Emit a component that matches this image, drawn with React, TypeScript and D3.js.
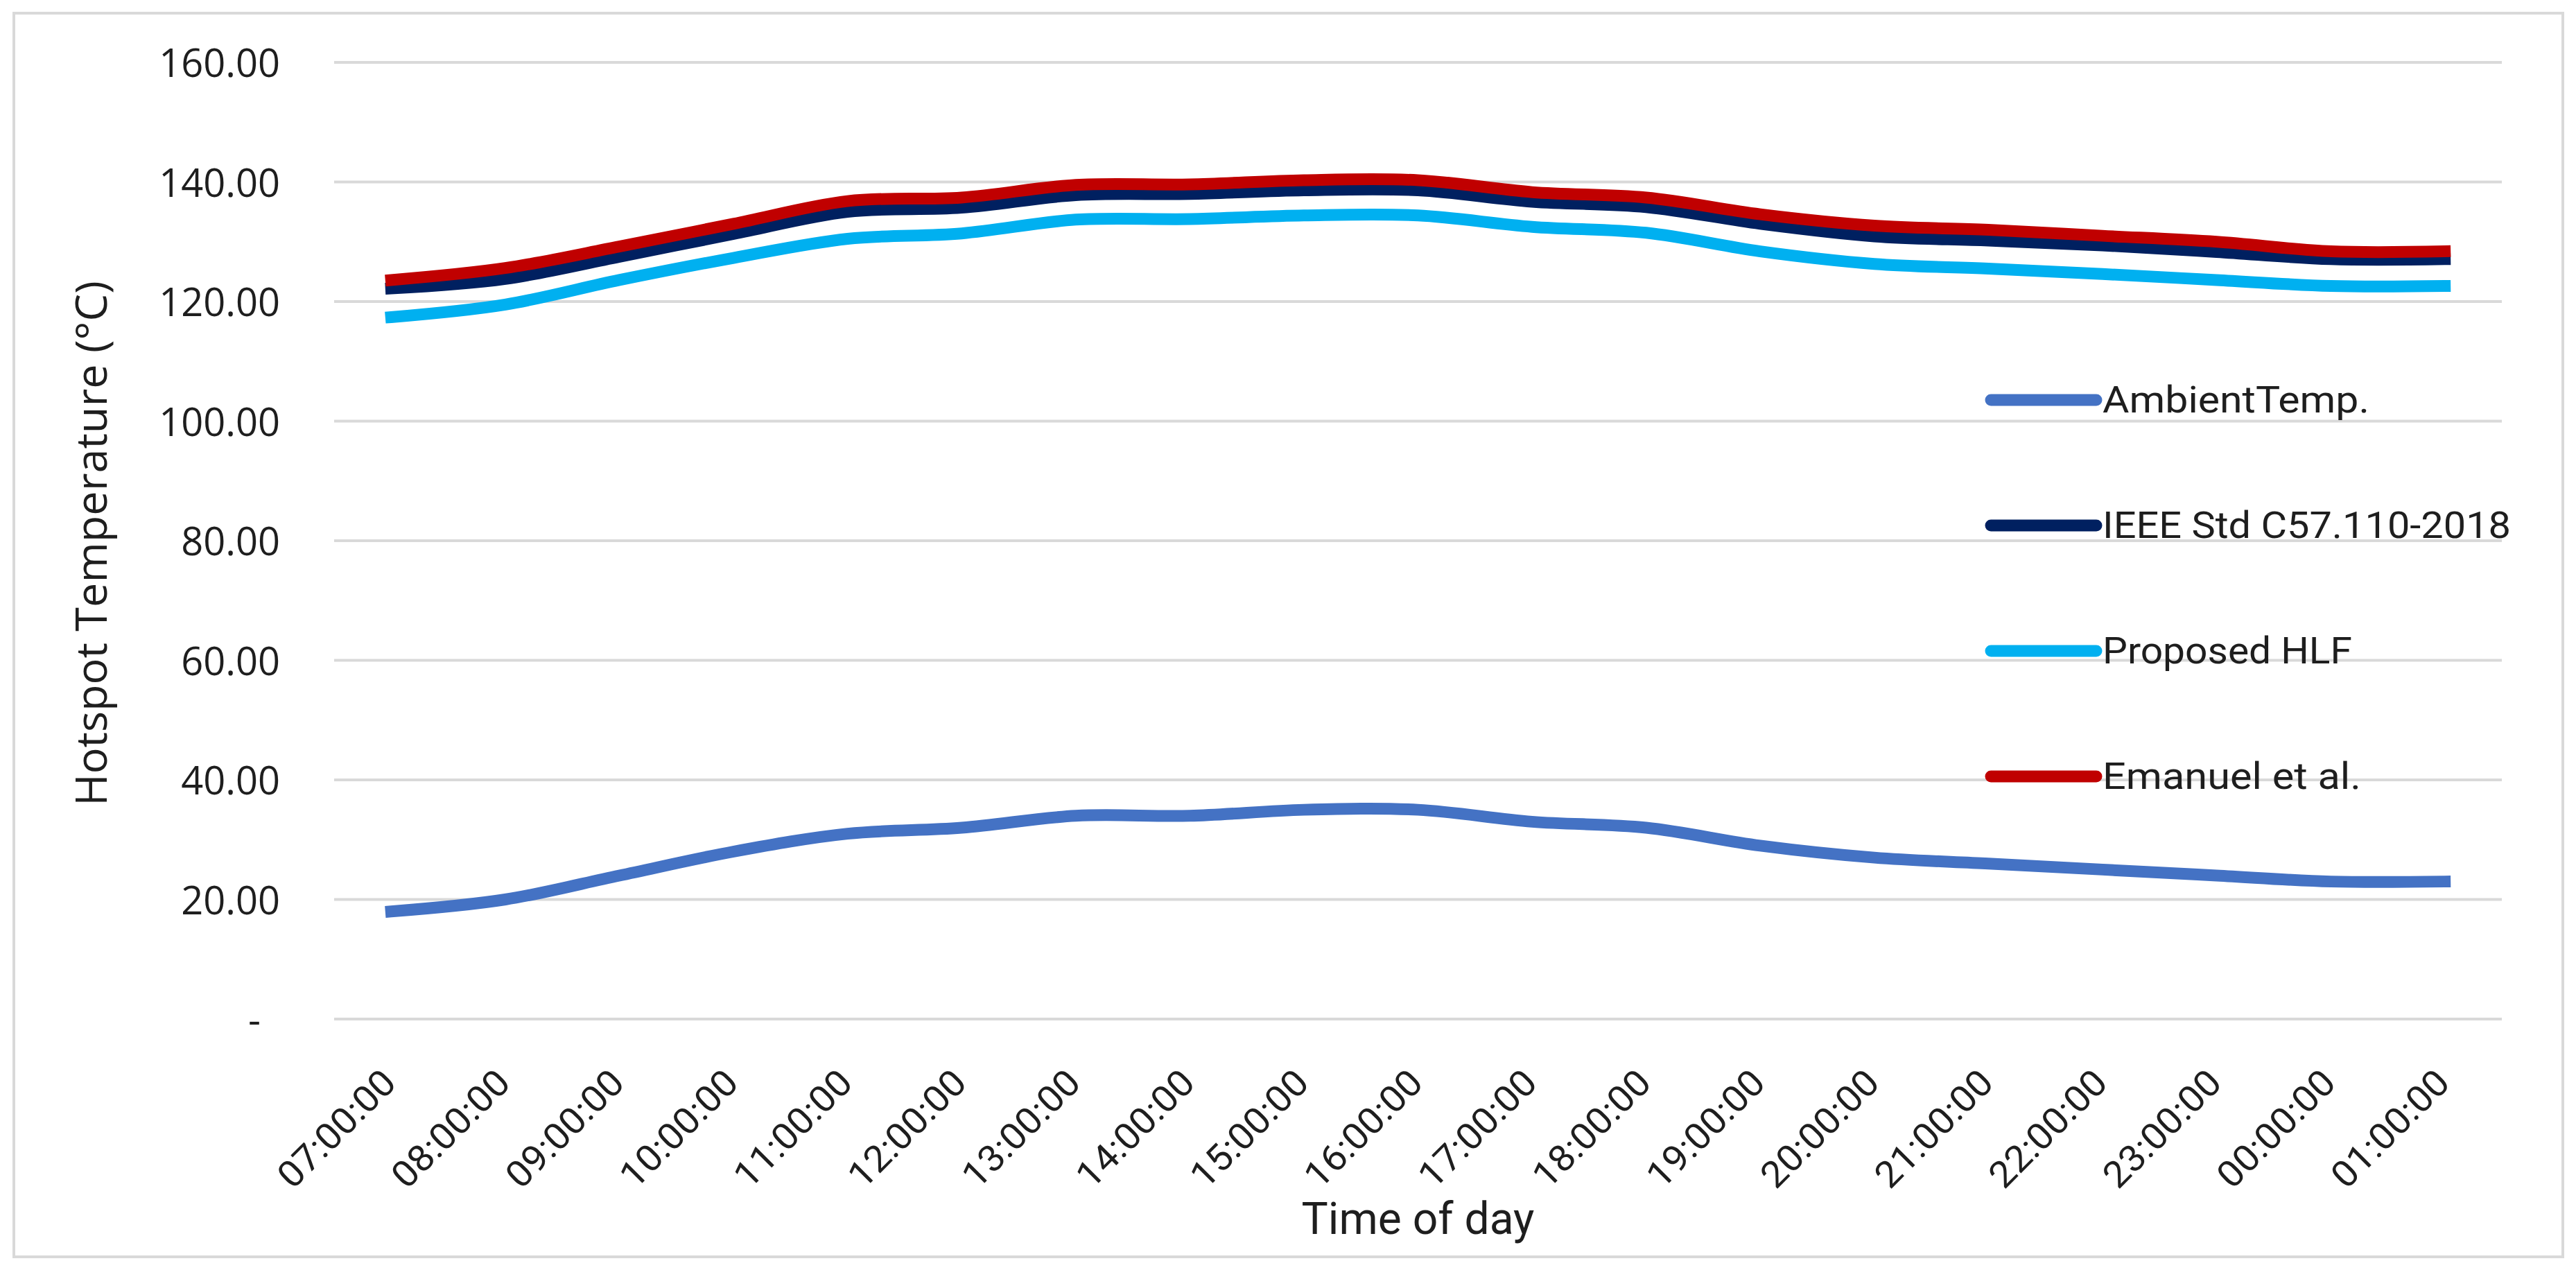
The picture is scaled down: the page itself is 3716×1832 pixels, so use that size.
import React, { useEffect } from "react";
import * as d3 from "d3";

const categories = ["07:00:00","08:00:00","09:00:00","10:00:00","11:00:00","12:00:00","13:00:00","14:00:00","15:00:00","16:00:00","17:00:00","18:00:00","19:00:00","20:00:00","21:00:00","22:00:00","23:00:00","00:00:00","01:00:00"];
const ambientTemp = [18, 20, 24, 28, 31, 32, 34, 34, 35, 35, 33, 32, 29, 27, 26, 25, 24, 23, 23];
const ieeeStd = [122.2, 123.8, 127.5, 131.3, 135, 135.7, 137.8, 138, 138.6, 138.6, 136.7, 135.8, 133, 130.9, 130.2, 129.4, 128.3, 127.1, 127.1];
const proposedHLF = [117.4, 119.5, 123.6, 127.3, 130.5, 131.4, 133.7, 133.8, 134.4, 134.4, 132.5, 131.5, 128.4, 126.3, 125.5, 124.6, 123.6, 122.6, 122.6];
const emanuel = [123.6, 125.6, 129.2, 133, 136.8, 137.4, 139.5, 139.6, 140.3, 140.3, 138.3, 137.4, 134.6, 132.7, 132, 131, 130, 128.4, 128.4];
const yTicks = [0, 20, 40, 60, 80, 100, 120, 140, 160];

const seriesNames = ["AmbientTemp.", "IEEE Std C57.110-2018", "Proposed HLF", "Emanuel et al."];
const seriesColors = ["#4472C4", "#002060", "#00B0F0", "#C00000"];
const seriesData = [ambientTemp, ieeeStd, proposedHLF, emanuel];
const legendTextLengths = [385, 589, 360, 373];

const W = 3716, H = 1832;
const plotLeft = 482, plotRight = 3609, plotTop = 90, plotBottom = 1470;

export default function App() {
  useEffect(() => {
    document.body.style.margin = "0";
    document.body.style.overflow = "hidden";
  }, []);

  const x = d3.scaleBand<string>().domain(categories).range([plotLeft, plotRight]);
  const cx = (c: string) => (x(c) as number) + x.bandwidth() / 2;
  const y = d3.scaleLinear().domain([0, 160]).range([plotBottom, plotTop]);

  const line = d3.line<number>()
    .x((_, i) => cx(categories[i]))
    .y((v) => y(v))
    .curve(d3.curveCatmullRom.alpha(0));

  const legendX1 = 2872, legendX2 = 3024, legendTextX = 3033;
  const legendYs = [577, 758, 939, 1120];
  const textColor = "#1e1e1e";

  return (
    <svg width={W} height={H} style={{ position: "absolute", left: 0, top: 0, display: "block", background: "#fff" }}>
      <rect x={0} y={0} width={W} height={H} fill="#fff" />
      <rect x={20} y={19} width={3677} height={1794} fill="none" stroke="#D9D9D9" strokeWidth={4} />
      {yTicks.map((t) => (
        <line key={"g" + t} x1={plotLeft} x2={plotRight} y1={y(t)} y2={y(t)} stroke="#D9D9D9" strokeWidth={4} />
      ))}
      {yTicks.map((t) => (
        <text key={"yl" + t} x={t === 0 ? 376 : 404} y={y(t) + 21} textAnchor="end"
          fontFamily="'Open Sans', sans-serif" fontSize={56} fill={textColor}>
          {t === 0 ? "-" : t.toFixed(2)}
        </text>
      ))}
      <text transform={`translate(154, ${(plotTop + plotBottom) / 2 + 4}) rotate(-90)`} textAnchor="middle"
        fontFamily="'Open Sans', sans-serif" fontSize={63} fill={textColor}>
        Hotspot Temperature (°C)
      </text>
      {categories.map((c) => (
        <text key={"xl" + c} transform={`translate(${cx(c) + 10}, 1565) rotate(-45)`} textAnchor="end"
          fontFamily="Roboto, sans-serif" fontSize={53} fill={textColor} textLength={215} lengthAdjust="spacingAndGlyphs">
          {c}
        </text>
      ))}
      <text x={(plotLeft + plotRight) / 2} y={1780} textAnchor="middle" fontFamily="Roboto, sans-serif" fontSize={65}
        fill={textColor} textLength={336} lengthAdjust="spacingAndGlyphs">
        Time of day
      </text>
      {seriesData.map((d, i) => (
        <path key={"s" + i} d={line(d) as string} fill="none" stroke={seriesColors[i]} strokeWidth={17}
          strokeLinejoin="round" strokeLinecap="square" />
      ))}
      {seriesNames.map((n, i) => (
        <g key={"lg" + i}>
          <line x1={legendX1} x2={legendX2} y1={legendYs[i]} y2={legendYs[i]} stroke={seriesColors[i]} strokeWidth={17} strokeLinecap="round" />
          <text x={legendTextX} y={legendYs[i] + 18} fontFamily="Roboto, sans-serif" fontSize={53} fill={textColor}
            textLength={legendTextLengths[i]} lengthAdjust="spacingAndGlyphs">
            {n}
          </text>
        </g>
      ))}
    </svg>
  );
}
